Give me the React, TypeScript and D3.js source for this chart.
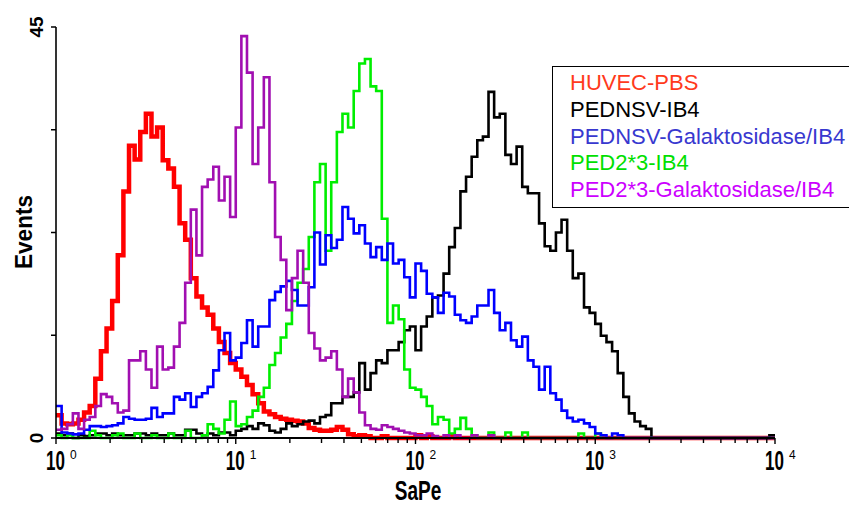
import React from 'react';
import * as d3 from 'd3';

// ---- data ----
const CHANNELS_PER_DECADE = 32; // histogram channels per log decade
const X_DOMAIN = [1, 10000];
const Y_MAX = 45;
const X_TICK_EXPONENTS = ['0', '1', '2', '3', '4'];
const Y_TICK_VALUES = [0, 11.25, 22.5, 33.75, 45];
const Y_TICK_LABELS = [{ v: 0, t: '0' }, { v: 45, t: '45' }];
const X_TITLE = 'SaPe';
const Y_TITLE = 'Events';

const SERIES_NAMES = [
  'HUVEC-PBS',
  'PEDNSV-IB4',
  'PEDNSV-Galaktosidase/IB4',
  'PED2*3-IB4',
  'PED2*3-Galaktosidase/IB4',
];

const huvecPBS = [
  2.5, 1.6, 1.5, 1.6, 2.0, 2.8, 3.5, 6.5, 9.5, 12,
  15, 20, 27, 32, 30.5, 33.5, 35.5, 33, 34, 30.4,
  29.5, 27.5, 23.5, 21.7, 17.5, 15.5, 14.3, 13.5, 12, 10.5,
  9.3, 8.2, 7.5, 6.7, 5.8, 4.8, 3.8, 2.9, 2.6, 2.3,
  2.1, 2.0, 1.9, 1.8, 1.6, 1.1, 0.9, 0.8, 0.8, 0.9,
  1.2, 0.9, 0.4, 0.2, 0.3, 0.2, 0, 0, 0.2, 0,
  0, 0, 0, 0, 0.3, 0, 0.2, 0, 0, 0,
  0.2, 0, 0, 0, 0, 0, 0, 0, 0, 0,
  0, 0, 0, 0, 0, 0, 0, 0, 0, 0,
  0, 0, 0, 0, 0, 0, 0, 0, 0, 0,
  0, 0, 0, 0, 0, 0, 0, 0, 0, 0,
  0, 0, 0, 0, 0, 0, 0, 0, 0, 0,
  0, 0, 0, 0, 0, 0, 0, 0,
];

const pednsvIB4 = [
  0.5, 0.3, 0.5, 0, 0.3, 0.2, 0.3, 0.5, 0.5, 0.3,
  0.5, 0.3, 0.3, 0.3, 0.5, 0.5, 0.3, 0.5, 0.3, 0.3,
  0.5, 0.3, 0.3, 0.9, 0.9, 0.5, 0.3, 0.5, 0.3, 0.6,
  0.6, 0.3, 0.8, 1.0, 1.3, 1.0, 1.6, 1.4, 0.8, 0.6,
  1.0, 1.6, 1.3, 1.5, 1.8, 1.9, 1.6, 2.3, 2.5, 3.8,
  3.8, 4.5, 4.5, 5.0, 8.2, 5.3, 7.1, 8.5, 8.2, 9.6,
  9.6, 10.5, 11.8, 12.2, 9.6, 12.2, 13.3, 15.4, 15.6, 18,
  20.9, 23, 27, 28.6, 30.8, 32.6, 33, 37.9, 35.1, 35.5,
  31, 30, 31.9, 27.5, 26.8, 26.8, 23.5, 21, 20.5, 22.5,
  23.9, 20.5, 17.5, 18, 14.3, 13.7, 12.5, 11.2, 10.5, 9.5,
  7.1, 4.5, 2.7, 1.8, 1.3, 1.0, 0, 0, 0, 0,
  0, 0, 0, 0, 0, 0, 0, 0, 0, 0,
  0, 0, 0, 0, 0, 0, 0, 0.3,
];

const pednsvGal = [
  3.5, 0.6, 0.5, 0.4, 0.5, 0.9, 1.3, 1.3, 1.2, 1.3,
  1.4, 1.6, 2.3, 2.1, 2.0, 2.0, 2.1, 3.3, 2.3, 2.7,
  2.7, 4.5, 4.2, 4.9, 3.4, 4.5, 4.9, 5.6, 7.4, 9.6,
  11.5, 8.5, 8.8, 10.4, 12.9, 10, 12.2, 12.2, 15.1, 16.0,
  16.6, 17.2, 16.2, 14.5, 14.5, 16.5, 22.5, 19, 22.2, 20.8,
  21.7, 25.3, 24, 22.4, 23.3, 21.3, 19.8, 20.9, 19.5, 21.3,
  19.1, 19.5, 17.6, 15.4, 19.1, 18.3, 15.8, 15.4, 13.7, 15.9,
  15.5, 13.5, 12.9, 12.6, 13.3, 14.5, 14.5, 16.2, 13.7, 11.8,
  12.6, 10.7, 10.0, 11.1, 8.5, 7.8, 5.3, 7.8, 4.9, 4.2,
  3.0, 2.2, 1.8, 2.0, 1.6, 1.2, 0.5, 0.3, 0, 0.5,
  0.3, 0, 0, 0, 0, 0, 0, 0, 0, 0,
  0, 0, 0, 0, 0, 0, 0, 0, 0, 0,
  0, 0, 0, 0, 0, 0, 0, 0,
];

const ped23IB4 = [
  0.3, 0, 0.3, 0, 0, 0, 0.8, 0.3, 0, 0,
  0.3, 0.5, 0, 0, 0.5, 0, 0, 0.3, 0, 0,
  0.5, 0, 0, 0.8, 0, 0, 0.3, 1.5, 1.0, 0.5,
  2.0, 4.0, 1.3, 1.5, 2.3, 3.0, 4.5, 5.5, 8.0, 9.3,
  11.0, 12.5, 15, 17, 18.5, 22, 28, 30, 20.5, 28,
  33.5, 35.5, 34, 38, 41, 41.5, 38.5, 38, 24, 12.6,
  14.5, 13, 7.5, 5.5, 5.3, 4.5, 3.5, 1.5, 2.3, 2.0,
  0.5, 1.0, 2.2, 1.0, 0.3, 0, 0, 0.6, 0, 0,
  0.6, 0, 0, 0.6, 0, 0, 0, 0, 0, 0,
  0, 0, 0, 0.5, 0, 0, 0.5, 0, 0, 0,
  0, 0, 0, 0, 0, 0, 0, 0, 0, 0,
  0, 0, 0, 0, 0, 0, 0, 0, 0, 0,
  0, 0, 0, 0, 0, 0, 0, 0,
];

const ped23Gal = [
  0.9, 1.0, 1.5, 2.7, 1.0, 2.0, 2.3, 3.5, 4.8, 4.5,
  3.8, 2.8, 3.0, 8.5, 8.5, 9.5, 7.5, 5.5, 10, 7.5,
  7.7, 10, 12.6, 17, 25, 20, 27.5, 28.3, 29.7, 26,
  28.6, 24.2, 34, 44, 40, 30, 34, 39.5, 28, 22,
  19.5, 14, 17.5, 20.5, 17, 11.5, 9.8, 8.5, 8.8, 9.5,
  7.5, 4.5, 6.5, 5.0, 2.8, 1.4, 1.0, 0.9, 1.4, 1.2,
  1.0, 0.8, 0.6, 0.5, 0.3, 0.3, 0.5, 0.2, 0, 0.3,
  0, 0.3, 0, 0, 0.3, 0, 0, 0.3, 0, 0,
  0, 0, 0, 0, 0, 0, 0, 0, 0, 0,
  0, 0, 0, 0, 0, 0, 0, 0, 0, 0,
  0, 0, 0, 0, 0, 0, 0, 0, 0, 0,
  0, 0, 0, 0, 0, 0, 0, 0, 0, 0,
  0, 0, 0, 0, 0, 0, 0, 0,
];

const SERIES_VALUES = [huvecPBS, pednsvIB4, pednsvGal, ped23IB4, ped23Gal];

// ---- styles ----
const LINE_COLORS = ['#ff0000', '#000000', '#0000ff', '#00ee00', '#a10fb1'];
const LEGEND_COLORS = ['#ff3a1c', '#000000', '#3838cf', '#00e000', '#cc00ff'];
const LINE_WIDTHS = [4.5, 2.6, 2.6, 2.6, 2.6];
const DRAW_ORDER = [0, 1, 3, 2, 4];

const W = 849;
const H = 506;
const PLOT = { left: 56, right: 775, top: 27, bottom: 438 };
const FONT = '"Liberation Sans", Arial, sans-serif';

export default function App() {
  const x = d3.scaleLog().domain(X_DOMAIN).range([PLOT.left, PLOT.right]);
  const y = d3.scaleLinear().domain([0, Y_MAX]).range([PLOT.bottom, PLOT.top]);

  const channelX = (i: number) => Math.pow(10, i / CHANNELS_PER_DECADE);
  const line = d3
    .line<[number, number]>()
    .x((d) => x(d[0]))
    .y((d) => y(d[1]))
    .curve(d3.curveStepAfter);

  const paths = SERIES_VALUES.map((vals) => {
    const pts: [number, number][] = vals.map((v, i) => [channelX(i), v]);
    pts.push([channelX(vals.length), vals[vals.length - 1]]);
    return line(pts) || '';
  });

  const xTicks = x.ticks();
  const majorTicks = X_TICK_EXPONENTS.map((e) => Math.pow(10, +e));

  return (
    <svg
      width={W}
      height={H}
      viewBox={`0 0 ${W} ${H}`}
      style={{ position: 'absolute', left: 0, top: 0, background: '#fff' }}
    >
      <rect x={0} y={0} width={W} height={H} fill="#fff" />

      {/* series */}
      {DRAW_ORDER.map((si) => (
        <path
          key={si}
          d={paths[si]}
          fill="none"
          stroke={LINE_COLORS[si]}
          strokeWidth={LINE_WIDTHS[si]}
          strokeLinejoin="miter"
          strokeLinecap="butt"
        />
      ))}

      {/* y axis */}
      <line x1={PLOT.left} x2={PLOT.left} y1={PLOT.top} y2={PLOT.bottom + 1} stroke="#000" strokeWidth={1.6} />
      {Y_TICK_VALUES.map((v) => (
        <line key={v} x1={PLOT.left - 5} x2={PLOT.left} y1={y(v)} y2={y(v)} stroke="#000" strokeWidth={1.5} />
      ))}
      {Y_TICK_LABELS.map((d) => (
        <text
          key={d.t}
          transform={`translate(43,${y(d.v)}) rotate(-90)`}
          textAnchor="middle"
          fontFamily={FONT}
          fontWeight="bold"
          fontSize={19}
          fill="#000"
        >
          {d.t}
        </text>
      ))}
      <text
        transform={`translate(32,232) rotate(-90) scale(0.94,1)`}
        textAnchor="middle"
        fontFamily={FONT}
        fontWeight="bold"
        fontSize={24}
        fill="#000"
      >
        {Y_TITLE}
      </text>

      {/* x axis */}
      <line x1={PLOT.left} x2={PLOT.right} y1={PLOT.bottom} y2={PLOT.bottom} stroke="#000" strokeWidth={2} />
      {xTicks.map((t, i) => {
        const major = majorTicks.some((m) => Math.abs(m - t) < 1e-9);
        return (
          <line
            key={i}
            x1={x(t)}
            x2={x(t)}
            y1={PLOT.bottom}
            y2={PLOT.bottom + (major ? 6 : 5)}
            stroke="#000"
            strokeWidth={1.4}
          />
        );
      })}
      {X_TICK_EXPONENTS.map((e, i) => {
        const px = x(majorTicks[i]);
        return (
          <g key={e}>
            <text
              transform={`translate(${px - 0.5},470) scale(0.63,1)`}
              textAnchor="middle"
              fontFamily={FONT}
              fontWeight="bold"
              fontSize={27}
              fill="#000"
            >
              10
            </text>
            <text x={px + 14} y={459} fontFamily={FONT} fontSize={12} fill="#000">
              {e}
            </text>
          </g>
        );
      })}
      <text
        transform={`translate(418,500) scale(0.68,1)`}
        textAnchor="middle"
        fontFamily={FONT}
        fontWeight="bold"
        fontSize={28}
        fill="#000"
      >
        {X_TITLE}
      </text>

      {/* legend */}
      <rect x={552.5} y={66.5} width={320} height={141} fill="#fff" stroke="#000" strokeWidth={1} />
      {SERIES_NAMES.map((n, i) => (
        <text key={n} x={570} y={90 + i * 26.8} fontFamily={FONT} fontSize={22} fill={LEGEND_COLORS[i]}>
          {n}
        </text>
      ))}
    </svg>
  );
}
